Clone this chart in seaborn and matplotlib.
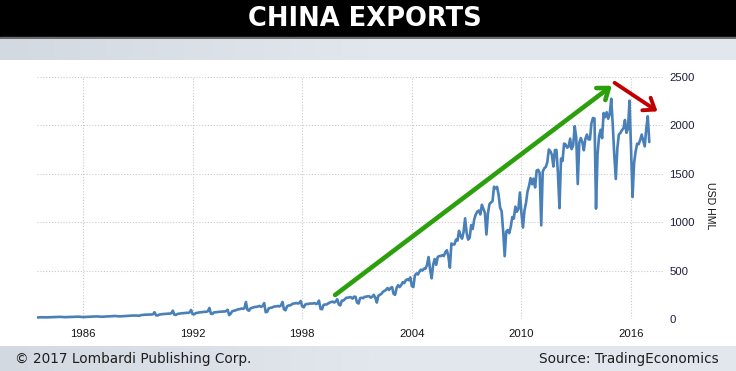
import numpy as np
import pandas as pd
import seaborn as sns
import matplotlib.pyplot as plt
from matplotlib.colors import LinearSegmentedColormap

# China exports, USD HML (hundred million)
early_start = "1983-07"   # quarterly readings 1983 Q3 .. 1988 Q4
early_values = [16, 18,
                17, 19, 20, 22,
                19, 21, 22, 24,
                20, 22, 24, 27,
                23, 26, 28, 31,
                27, 30, 32, 36]

monthly_start = "1989-01"
exports_1989_1999 = [
    35, 33, 40, 42, 44, 45, 44, 46, 47, 46, 50, 70,
    38, 36, 45, 48, 50, 52, 52, 54, 56, 55, 60, 86,
    45, 42, 52, 55, 57, 60, 60, 62, 64, 63, 68, 93,
    50, 48, 60, 63, 66, 70, 70, 72, 75, 74, 80, 114,
    55, 52, 68, 70, 72, 74, 75, 76, 78, 78, 82, 95,
    40, 55, 80, 85, 88, 95, 100, 102, 108, 105, 110, 175,
    95, 85, 110, 115, 120, 125, 125, 130, 135, 125, 135, 165,
    70, 75, 110, 115, 118, 125, 130, 130, 135, 130, 140, 176,
    100, 90, 130, 140, 140, 150, 160, 160, 165, 160, 165, 186,
    130, 120, 150, 155, 155, 160, 160, 160, 165, 155, 160, 190,
    105, 100, 145, 150, 150, 160, 170, 175, 180, 170, 180, 205,
]
exports_2000_2008 = [
    150, 140, 190, 190, 205, 220, 220, 225, 225, 210, 230, 230,
    170, 160, 215, 220, 215, 230, 230, 235, 235, 220, 230, 250,
    220, 170, 240, 250, 260, 280, 290, 300, 320, 300, 320, 330,
    260, 250, 320, 350, 330, 350, 380, 370, 400, 410, 400, 430,
    340, 330, 450, 470, 460, 490, 510, 500, 520, 520, 560, 640,
    510, 420, 560, 620, 560, 640, 650, 650, 660, 650, 690, 710,
    650, 530, 780, 770, 770, 820, 810, 910, 860, 830, 900, 1040,
    890, 820, 840, 970, 930, 1030, 1080, 1110, 1120, 1080, 1180, 1140,
    1097, 873, 1090, 1187, 1204, 1217, 1367, 1349, 1365, 1283, 1150, 1112,
]
exports_2009_2017 = [
    905, 649, 903, 919, 887, 954, 1054, 1037, 1160, 1108, 1137, 1307,
    1095, 945, 1121, 1199, 1317, 1375, 1455, 1392, 1450, 1359, 1534, 1541,
    1507, 967, 1522, 1557, 1571, 1620, 1751, 1733, 1697, 1575, 1745, 1747,
    1500, 1145, 1657, 1632, 1812, 1804, 1770, 1780, 1863, 1755, 1794, 1992,
    1874, 1394, 1821, 1870, 1827, 1743, 1860, 1906, 1856, 1854, 2023, 2077,
    2071, 1140, 1701, 1887, 1955, 1868, 2128, 2085, 2136, 2069, 2117, 2275,
    2003, 1692, 1446, 1763, 1907, 1921, 1951, 1968, 2056, 1924, 1968, 2255,
    1774, 1260, 1609, 1728, 1811, 1806, 1849, 1905, 1845, 1783, 1968, 2094,
    1828,
]

year_ticks = [1986, 1992, 1998, 2004, 2010, 2016]
value_ticks = [0, 500, 1000, 1500, 2000, 2500]

# annotation arrows (year, value)
green_arrow = [(1999.8, 248), (2014.95, 2410)]
red_arrow = [(2015.1, 2440), (2017.45, 2145)]

early = pd.DataFrame({"date": pd.date_range(early_start, periods=len(early_values), freq="QS"),
                      "value": early_values})
monthly_values = exports_1989_1999 + exports_2000_2008 + exports_2009_2017
monthly = pd.DataFrame({"date": pd.date_range(monthly_start, periods=len(monthly_values), freq="MS"),
                        "value": monthly_values})
df = pd.concat([early, monthly], ignore_index=True)
df["year"] = df["date"].dt.year + (df["date"].dt.month - 1) / 12

sns.set_theme(style="white")
plt.rcParams["font.family"] = ["Liberation Sans", "DejaVu Sans"]
tick_font = ["Liberation Sans Narrow", "Liberation Sans", "DejaVu Sans"]

W, H = 736, 371
fig = plt.figure(figsize=(W / 100, H / 100), dpi=100)
fig.patch.set_facecolor("white")

band_cmap = LinearSegmentedColormap.from_list("band", ["#d3d9e0", "#e2e7ee", "#e2e7ee"])
grad = np.linspace(0, 1, 256).reshape(1, -1)

# black title bar + thin gray rule + light band
fig.add_artist(plt.Rectangle((0, 1 - 37 / H), 1, 37 / H, transform=fig.transFigure,
                             color="black", zorder=0))
fig.add_artist(plt.Rectangle((0, 1 - 39 / H), 1, 2 / H, transform=fig.transFigure,
                             color="#6a6a6a", zorder=0))
band = fig.add_axes([0, 1 - 60 / H, 1, 21 / H])
band.imshow(grad, aspect="auto", cmap=band_cmap)
band.axis("off")
foot = fig.add_axes([0, 0, 1, 25.5 / H])
foot.imshow(grad, aspect="auto", cmap=band_cmap)
foot.axis("off")

fig.text(0.496, 1 - 19 / H, "CHINA EXPORTS", ha="center", va="center",
         color="white", fontsize=18.5, fontweight="bold", family=["DejaVu Sans"])
fig.text(15 / W, 12.5 / H, "\u00a9 2017 Lombardi Publishing Corp.", ha="left", va="center",
         color="#1e1e1e", fontsize=9.8, family=["DejaVu Sans"])
fig.text(719 / W, 12.5 / H, "Source: TradingEconomics", ha="right", va="center",
         color="#1e1e1e", fontsize=9.8, family=["DejaVu Sans"])

# main axes
x0, x1, ytop, ybot = 37, 663, 77, 319
ax = fig.add_axes([x0 / W, 1 - ybot / H, (x1 - x0) / W, (ybot - ytop) / H])
sns.lineplot(data=df, x="year", y="value", color="#4a80b8", linewidth=1.9, ax=ax)

ax.set_xlim(1983.48, 2017.75)
ax.set_ylim(0, 2500)
ax.set_xticks(year_ticks)
ax.set_xticklabels([str(y) for y in year_ticks], family=tick_font)
ax.set_yticks(value_ticks)
ax.set_yticklabels([str(v) for v in value_ticks], family=tick_font)
ax.yaxis.tick_right()
for s in ax.spines.values():
    s.set_visible(False)
ax.grid(True, color="#c9c9c9", linestyle=(0, (1, 1.6)), linewidth=0.8)
ax.set_axisbelow(True)
ax.tick_params(axis="x", length=3, color="#c9c9c9", pad=4, labelsize=8.2, labelcolor="#151515")
ax.tick_params(axis="y", length=0, pad=4.5, labelsize=8.2, labelcolor="#1c1c40")
ax.set_xlabel("")
ax.set_ylabel("USD HML", rotation=270, fontsize=7.6, color="#151515", va="center",
              family=tick_font)
ax.yaxis.set_label_position("right")
ax.yaxis.set_label_coords((715 - x0) / (x1 - x0), 0.47)

ax.annotate("", xy=green_arrow[1], xytext=green_arrow[0], annotation_clip=False,
            arrowprops=dict(arrowstyle="->,head_length=0.6,head_width=0.45",
                            color="#2ca00c", lw=3.3, shrinkA=0, shrinkB=0))
ax.annotate("", xy=red_arrow[1], xytext=red_arrow[0], annotation_clip=False,
            arrowprops=dict(arrowstyle="->,head_length=0.6,head_width=0.45",
                            color="#c00000", lw=2.8, shrinkA=0, shrinkB=0))

fig.savefig("out.png", dpi=100)
